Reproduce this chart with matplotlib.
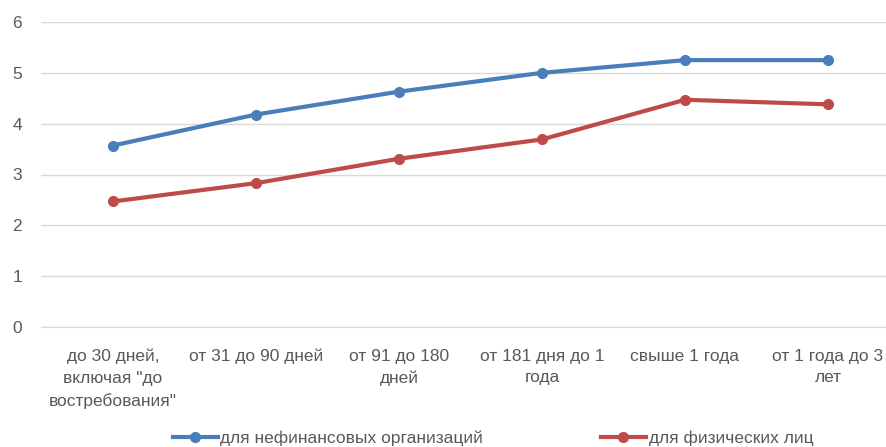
import matplotlib
matplotlib.use("Agg")
import matplotlib.pyplot as plt
from matplotlib import font_manager

categories = ['до 30 дней,\nвключая "до\nвостребования"', 'от 31 до 90 дней',
              'от 91 до 180\nдней', 'от 181 дня до 1\nгода', 'свыше 1 года',
              'от 1 года до 3\nлет']
nonfin = [3.57, 4.18, 4.63, 5.0, 5.25, 5.25]
persons = [2.47, 2.83, 3.31, 3.69, 4.47, 4.38]
series_names = ['для нефинансовых организаций', 'для физических лиц']

names = {f.name for f in font_manager.fontManager.ttflist}
fam = ['Liberation Sans Narrow', 'DejaVu Sans'] if 'Liberation Sans Narrow' in names else ['Liberation Sans', 'DejaVu Sans']
plt.rcParams['font.family'] = fam

grey = '#595959'
blue = '#4a7ebb'
red = '#be4b48'

fig = plt.figure(figsize=(8.87, 4.47), dpi=100)
ax = fig.add_axes([41.5 / 887, 120 / 447, 858 / 887, 305 / 447])
x = list(range(len(categories)))
ax.plot(x, nonfin, color=blue, lw=3, marker='o', ms=7, label=series_names[0])
ax.plot(x, persons, color=red, lw=3, marker='o', ms=7, label=series_names[1])

ax.set_xlim(-0.5, 5.5)
ax.set_ylim(0, 6)
ax.set_yticks(range(0, 7))
ax.grid(axis='y', color='#d9d9d9', lw=1)
ax.set_axisbelow(True)
for s in ax.spines.values():
    s.set_visible(False)
ax.spines['bottom'].set_visible(True)
ax.spines['bottom'].set_color('#d9d9d9')
ax.tick_params(length=0, colors=grey, labelsize=12.5)
ax.tick_params(axis='y', pad=14)
ax.tick_params(axis='x', pad=15.5)
ax.set_xticks(x)
ax.set_xticklabels(categories, linespacing=1.55)

h, l = ax.get_legend_handles_labels()
fig.legend(h[:1], l[:1], loc='center', bbox_to_anchor=(328 / 887, 1 - 438 / 447),
           frameon=False, fontsize=12.5, labelcolor=grey, handlelength=2.6, handletextpad=0.15)
fig.legend(h[1:], l[1:], loc='center', bbox_to_anchor=(707 / 887, 1 - 438 / 447),
           frameon=False, fontsize=12.5, labelcolor=grey, handlelength=2.6, handletextpad=0.15)

fig.savefig('out.png', dpi=100)
